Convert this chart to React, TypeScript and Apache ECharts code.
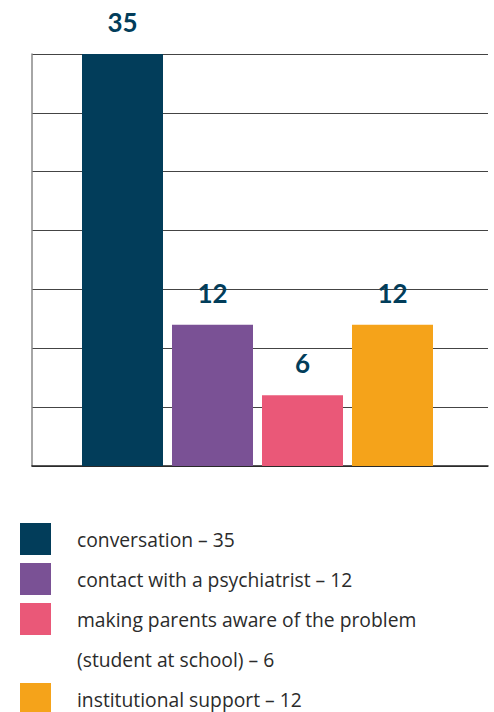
import React, { useEffect, useRef } from "react";
import * as echarts from "echarts";

const categories = ["conversation", "contact with a psychiatrist", "making parents aware of the problem", "institutional support"];
const values = [35, 12, 6, 12];
const colors = ["#023d5a", "#7a5195", "#ea5878", "#f5a31a"];
const legendLines = [
  ["conversation – 35"],
  ["contact with a psychiatrist – 12"],
  ["making parents aware of the problem", "(student at school) – 6"],
  ["institutional support – 12"],
];
const yMax = 35;
const yInterval = 5;

export default function App() {
  const ref = useRef<HTMLDivElement>(null);
  useEffect(() => {
    if (!ref.current) return;
    const chart = echarts.init(ref.current, null, { renderer: "svg" });
    const graphics: any[] = [];
    let line = 0;
    legendLines.forEach((lines, i) => {
      const cy = 539 + line * 40;
      graphics.push({
        type: "rect",
        shape: { x: 20, y: cy - 16, width: 31, height: 32 },
        style: { fill: colors[i] },
      });
      lines.forEach((t, j) => {
        graphics.push({
          type: "text",
          x: 77,
          y: cy + j * 40,
          style: {
            text: t,
            fill: "#2b2b2b",
            font: "19.3px 'Open Sans', sans-serif",
            textVerticalAlign: "middle",
          },
        });
      });
      line += lines.length;
    });
    chart.setOption({
      animation: false,
      grid: [
        { left: 32, top: 54, width: 456, height: 412 },
        { left: 77.5, top: 54, width: 360, height: 412 },
      ],
      xAxis: [
        {
          gridIndex: 0,
          type: "category",
          data: [""],
          axisLine: { show: true, lineStyle: { color: "#222", width: 1.5 } },
          axisTick: { show: false },
          axisLabel: { show: false },
        },
        {
          gridIndex: 1,
          type: "category",
          data: categories,
          show: false,
        },
      ],
      yAxis: [
        {
          gridIndex: 0,
          type: "value",
          min: 0,
          max: yMax,
          interval: yInterval,
          axisLine: { show: true, lineStyle: { color: "#888", width: 1.5 } },
          axisTick: { show: false },
          axisLabel: { show: false },
          splitLine: { show: true, lineStyle: { color: "#444", width: 1 } },
        },
        {
          gridIndex: 1,
          type: "value",
          min: 0,
          max: yMax,
          interval: yInterval,
          show: false,
          splitLine: { show: false },
        },
      ],
      series: [
        {
          type: "bar",
          xAxisIndex: 1,
          yAxisIndex: 1,
          barCategoryGap: "10%",
          data: values.map((v, i) => ({ value: v, itemStyle: { color: colors[i] } })),
          label: {
            show: true,
            position: "top",
            distance: 19,
            color: "#023d5a",
            fontSize: 26,
            fontWeight: "bold",
            fontFamily: "Lato, 'Open Sans', sans-serif",
          },
        },
      ],
      graphic: graphics,
    });
    return () => chart.dispose();
  }, []);
  return (
    <div
      ref={ref}
      style={{ position: "fixed", left: 0, top: 0, width: 494, height: 712, background: "#fff" }}
    />
  );
}
